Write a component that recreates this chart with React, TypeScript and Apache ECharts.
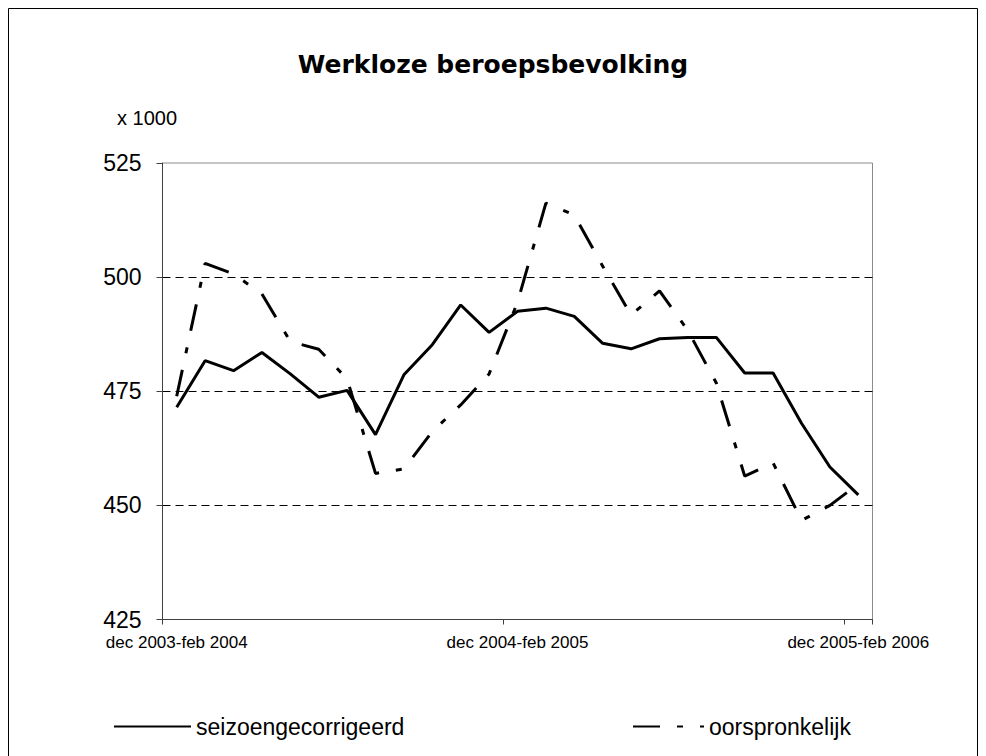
import React, { useEffect, useRef } from "react";
import * as echarts from "echarts";

const categories = [
  "dec 2003-feb 2004", "jan-mrt 2004", "feb-apr 2004", "mrt-mei 2004", "apr-jun 2004",
  "mei-jul 2004", "jun-aug 2004", "jul-sep 2004", "aug-okt 2004", "sep-nov 2004",
  "okt-dec 2004", "nov 2004-jan 2005", "dec 2004-feb 2005", "jan-mrt 2005", "feb-apr 2005",
  "mrt-mei 2005", "apr-jun 2005", "mei-jul 2005", "jun-aug 2005", "jul-sep 2005",
  "aug-okt 2005", "sep-nov 2005", "okt-dec 2005", "nov 2005-jan 2006", "dec 2005-feb 2006",
];

const seizoengecorrigeerd = [
  471.5, 481.7, 479.5, 483.5, 478.8, 473.7, 475.2, 465.5, 478.6, 485.2,
  493.9, 487.9, 492.5, 493.2, 491.4, 485.5, 484.3, 486.5, 486.8, 486.8,
  479.0, 479.0, 468.0, 458.4, 452.3,
];

const oorspronkelijk = [
  473.9, 503.0, 500.7, 496.3, 485.9, 484.2, 477.7, 457.0, 458.0, 466.2,
  472.0, 478.8, 494.5, 516.2, 513.6, 502.4, 491.7, 497.0, 488.3, 476.8,
  456.4, 459.3, 446.7, 450.0, 454.7,
];

const yMin = 425;
const yMax = 525;
const yStep = 25;

const seriesNames = ["seizoengecorrigeerd", "oorspronkelijk"];

const FONT = "'Liberation Sans', Arial, sans-serif";

export default function App() {
  const ref = useRef<HTMLDivElement>(null);

  useEffect(() => {
    const chart = echarts.init(ref.current!, null, { renderer: "svg" });
    const legendCommon = {
      top: 715,
      padding: 0,
      itemHeight: 14,
      itemStyle: { opacity: 0 },
      textStyle: { fontFamily: FONT, fontSize: 23, color: "#000" },
    };
    chart.setOption({
      animation: false,
      backgroundColor: "#fff",
      title: {
        text: "Werkloze beroepsbevolking",
        left: "center",
        top: 47,
        textStyle: {
          fontFamily: "'DejaVu Sans', sans-serif",
          fontWeight: "bold",
          fontSize: 25,
          color: "#000",
        },
      },
      graphic: [
        {
          type: "rect",
          shape: { x: 8.5, y: 8.5, width: 969, height: 800 },
          style: { fill: "none", stroke: "#000", lineWidth: 1 },
          silent: true,
        },
        {
          type: "text",
          x: 117,
          y: 118,
          style: {
            text: "x 1000",
            font: `20px ${FONT}`,
            fill: "#000",
            textVerticalAlign: "middle",
          },
        },
      ],
      legend: [
        {
          ...legendCommon,
          data: [seriesNames[0]],
          left: 113,
          itemWidth: 77,
        },
        {
          ...legendCommon,
          data: [seriesNames[1]],
          left: 632,
          itemWidth: 71,
        },
      ],
      grid: {
        left: 162.5,
        right: 113.5,
        top: 163,
        bottom: 136.5,
        show: true,
        borderColor: "#8c8c8c",
        borderWidth: 1,
        backgroundColor: "transparent",
      },
      xAxis: {
        type: "category",
        data: categories,
        boundaryGap: true,
        axisLine: { show: true, lineStyle: { color: "#404040", width: 1 } },
        axisTick: {
          show: true,
          interval: 11,
          alignWithLabel: false,
          length: 5,
          lineStyle: { color: "#404040" },
        },
        axisLabel: {
          interval: 11,
          margin: 14,
          fontFamily: FONT,
          fontSize: 17,
          color: "#000",
        },
        splitLine: { show: false },
      },
      yAxis: {
        type: "value",
        min: yMin,
        max: yMax,
        interval: yStep,
        axisLine: { show: true, lineStyle: { color: "#404040", width: 1 } },
        axisTick: { show: true, length: 6, lineStyle: { color: "#404040" } },
        axisLabel: {
          margin: 21,
          fontFamily: FONT,
          fontSize: 23,
          color: "#000",
        },
        splitLine: {
          show: true,
          lineStyle: {
            color: ["transparent", "#000", "#000", "#000", "transparent"],
            width: 1,
            type: [8, 5],
          },
        },
      },
      series: [
        {
          name: seriesNames[0],
          type: "line",
          data: seizoengecorrigeerd,
          symbol: "none",
          lineStyle: { color: "#000", width: 3, type: "solid" },
          itemStyle: { color: "#000" },
        },
        {
          name: seriesNames[1],
          type: "line",
          data: oorspronkelijk,
          symbol: "none",
          lineStyle: { color: "#000", width: 3, type: [27, 17, 6, 17] },
          itemStyle: { color: "#000" },
        },
      ],
    });
    return () => chart.dispose();
  }, []);

  return (
    <div
      ref={ref}
      style={{ position: "absolute", left: 0, top: 0, width: 986, height: 756, background: "#fff" }}
    />
  );
}
